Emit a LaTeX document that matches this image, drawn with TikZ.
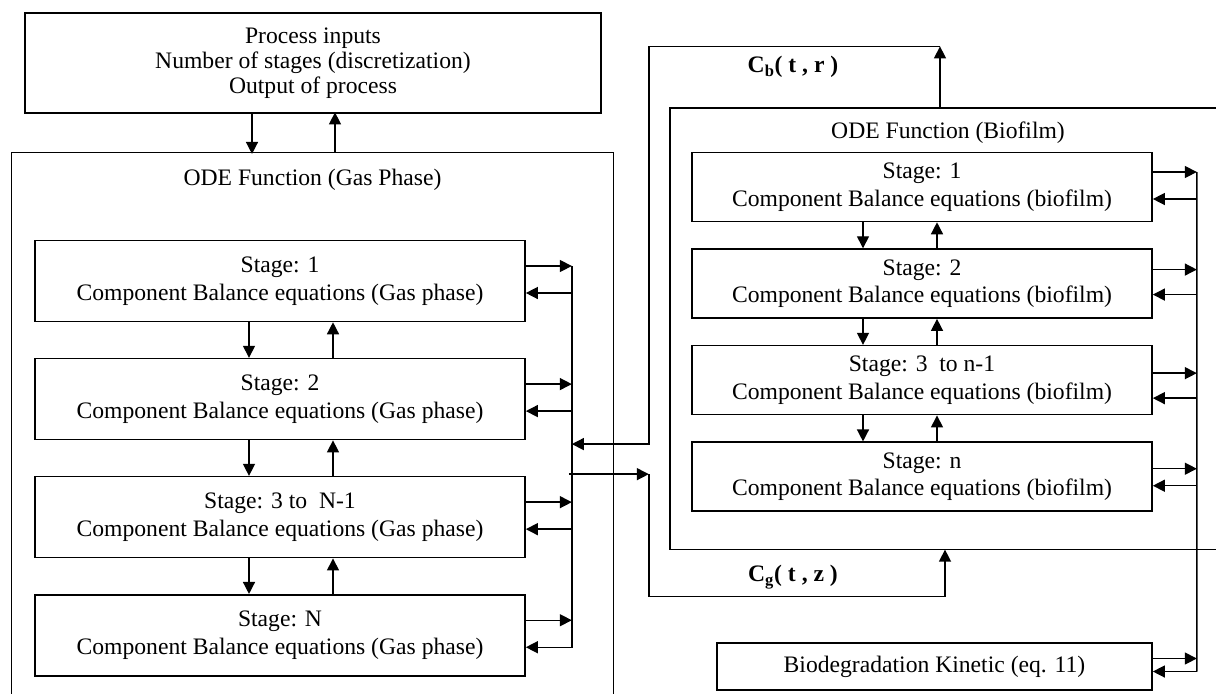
\documentclass[tikz,border=0pt]{standalone}
\usepackage{fontspec}
\setmainfont{Liberation Serif}
\usetikzlibrary{arrows.meta,positioning,calc}

\begin{document}
\begin{tikzpicture}[x=0.025cm, y=-0.025cm,
    >={Triangle[length=0.3cm,width=0.3cm]},
    every node/.style={font=\fontsize{16.8}{19.5}\selectfont},
    stagebase/.style={draw, rectangle, line width=1.1pt, align=center, inner sep=0pt},
    gasstage/.style={stagebase, minimum width=12.25cm, minimum height=2.025cm},
    biostage/.style={stagebase, minimum width=11.5cm, minimum height=1.725cm},
    fnbox/.style={draw, rectangle, line width=0.8pt, inner sep=0pt},
    flow/.style={->, line width=1pt},
    conc/.style={font=\fontsize{16.8}{19.5}\selectfont\bfseries}]
        \useasboundingbox (0,0) rectangle (1216,693);

        % Process box on top
        \node[stagebase, line width=1.3pt, minimum width=14.4cm, minimum height=2.5cm,
              font=\fontsize{16.8}{17.8}\selectfont] (inputs) at (313,63)
              {Process inputs\\Number of stages (discretization)\\Output of process};

        % Gas phase function with its stages
        \node[fnbox, minimum width=15.025cm, minimum height=14.175cm] (gasfn) at (312.5,436.5) {};
        \node (gastitle) at ($(gasfn.north)+(0,27)$) {ODE Function (Gas Phase)};
        \draw[flow] ($(inputs.south)+(-61,0)$) -- ++(0,40);
        \draw[flow] ($(gasfn.north)+(22.5,0)$) -- ++(0,-40);

        \node[gasstage] (g1) at (280,281) {Stage: 1\\Component Balance equations (Gas phase)};
        \node[gasstage, below=0.8875cm of g1] (g2) {Stage: 2\\Component Balance equations (Gas phase)};
        \node[gasstage, below=0.8875cm of g2] (g3) {Stage: 3 to\ \ N-1\\Component Balance equations (Gas phase)};
        \node[gasstage, below=0.8875cm of g3] (g4) {Stage: N\\Component Balance equations (Gas phase)};

        \foreach \a/\b in {g1/g2, g2/g3, g3/g4} {
            \draw[flow] ($(\a.south)+(-31,0)$) -- ($(\b.north)+(-31,0)$);
            \draw[flow] ($(\b.north)+(53,0)$) -- ($(\a.south)+(53,0)$);
        }
        \foreach \st in {g1,g2,g3,g4} {
            \draw[flow] ($(\st.east)+(0,-15)$) -- ++(46,0);
            \draw[flow] ($(\st.east)+(47,12)$) -- ($(\st.east)+(0,12)$);
        }
        \draw[line width=1pt] ($(g1.east)+(46,-15)$) -- ($(g4.east)+(46,12)$);

        % Biofilm function with its stages
        \node[fnbox, minimum width=13.9cm, minimum height=11.025cm] (biofn) at (948,328.5) {};
        \node (biotitle) at ($(biofn.north)+(0,25)$) {ODE Function (Biofilm)};

        \node[biostage] (b1) at (922,187) {Stage: 1\\Component Balance equations (biofilm)};
        \node[biostage, below=0.65cm of b1] (b2) {Stage: 2\\Component Balance equations (biofilm)};
        \node[biostage, below=0.65cm of b2] (b3) {Stage: 3\ \ to n-1\\Component Balance equations (biofilm)};
        \node[biostage, below=0.65cm of b3] (b4) {Stage: n\\Component Balance equations (biofilm)};

        \node[stagebase, minimum width=10.875cm, minimum height=1.175cm] (kin) at (934.5,666.5)
              {Biodegradation Kinetic (eq. 11)};

        \foreach \a/\b in {b1/b2, b2/b3, b3/b4} {
            \draw[flow] ($(\a.south)+(-59,0)$) -- ($(\b.north)+(-59,0)$);
            \draw[flow] ($(\b.north)+(15,0)$) -- ($(\a.south)+(15,0)$);
        }
        \foreach \st/\hi/\lo in {b1/15/12, b2/14/11, b3/7/18, b4/8/9, kin/8/5} {
            \draw[flow] ($(\st.east)+(0,-\hi)$) -- ++(44,0);
            \draw[flow] ($(\st.east)+(44,\lo)$) -- ($(\st.east)+(0,\lo)$);
        }
        \draw[line width=1pt] ($(b1.east)+(44,-15)$) -- ($(kin.east)+(44,5)$);

        % Exchange between the two functions
        \draw[flow] ($(biofn.north)+(-8,0)$) -- ++(0,-61) coordinate (cbtop);
        \coordinate (cbend) at ($(g2.east)+(46,45)$);
        \draw[flow] (cbtop) -| ($(cbend)+(77,0)$) -- (cbend);
        \node[conc] (cb) at (793,67) {C\textsubscript{b}( t , r )};

        \coordinate (cgstart) at ($(g3.east)+(43,-43)$);
        \draw[flow] (cgstart) -- ++(80,0) coordinate (cgturn);
        \draw[flow] (cgturn) |- ($(biofn.south)+(-3,47)$) -- ($(biofn.south)+(-3,0)$);
        \node[conc] (cg) at (793,577) {C\textsubscript{g}( t , z )};
\end{tikzpicture}
\end{document}
